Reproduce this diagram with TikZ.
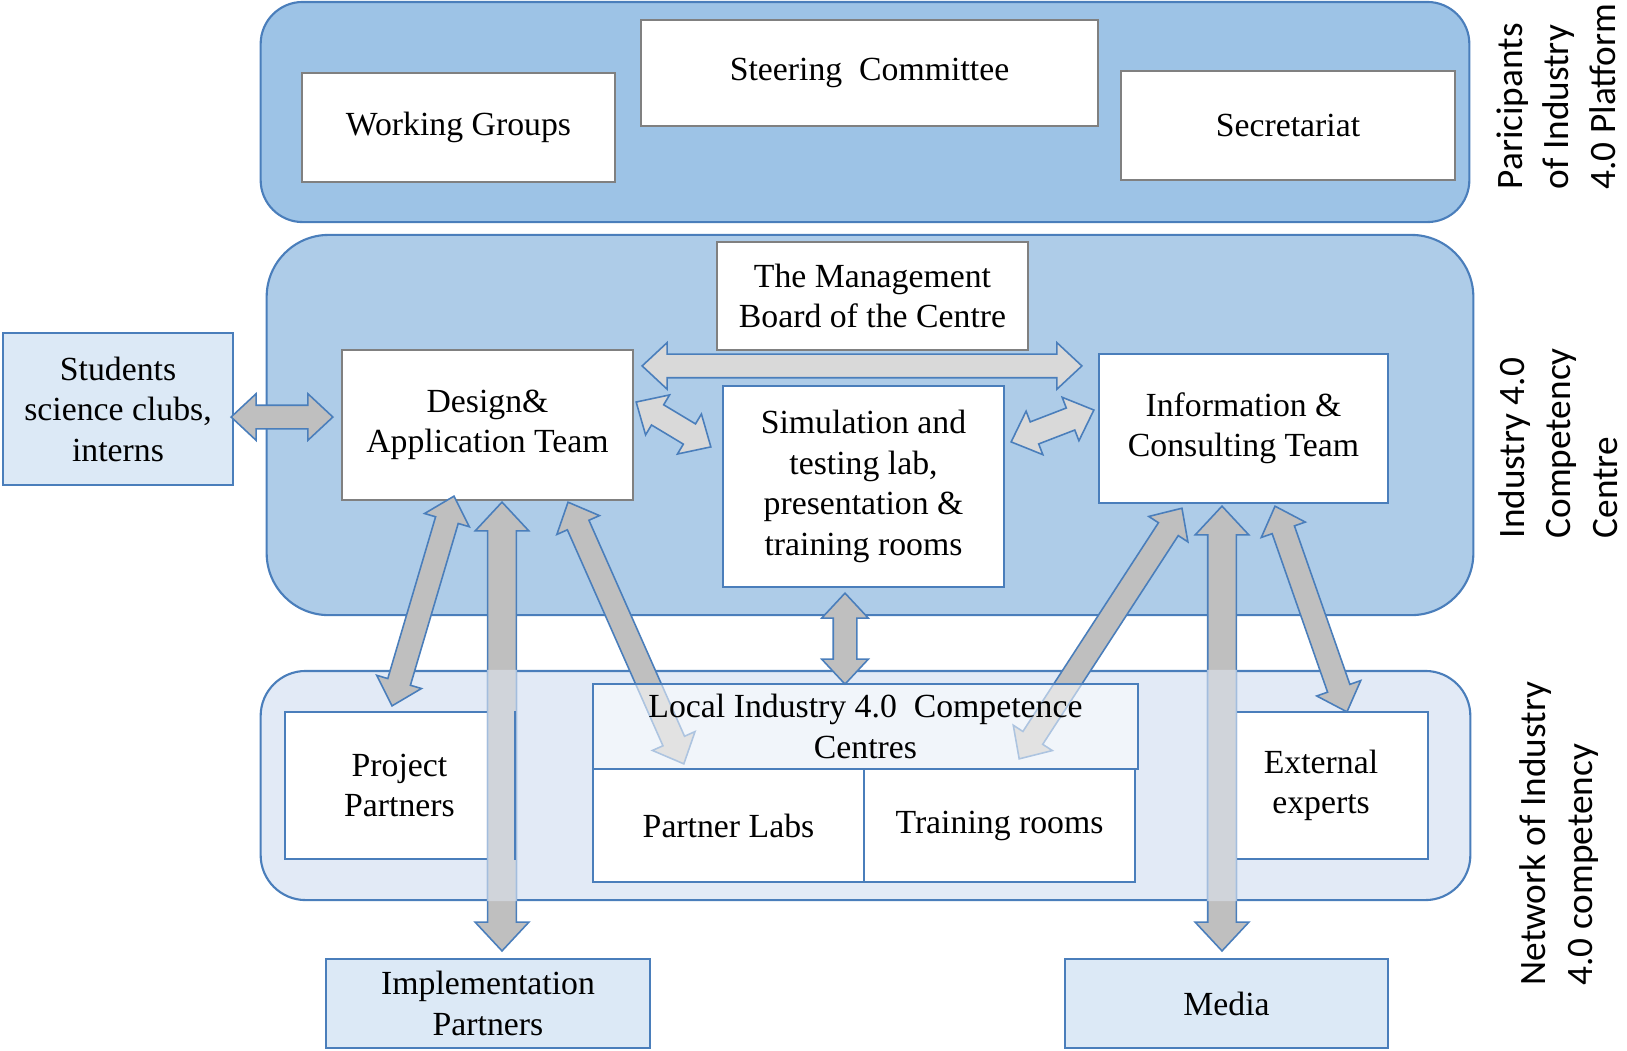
\documentclass[tikz,border=0pt]{standalone}
\usepackage{fontspec}
\setmainfont{Liberation Serif}
\newfontfamily\sidefont{Carlito}
\usetikzlibrary{calc,positioning,shapes.arrows}

\definecolor{platformblue}{RGB}{157,195,230}
\definecolor{centreblue}{RGB}{174,204,232}
\definecolor{networkblue}{RGB}{226,234,246}
\definecolor{outerfill}{RGB}{220,233,246}
\definecolor{bandline}{RGB}{74,126,187}
\definecolor{boxgray}{RGB}{128,128,128}
\definecolor{arrowgray}{RGB}{191,191,191}
\definecolor{arrowlight}{RGB}{217,217,217}

% block arrow with two heads between two points
\newcommand{\blockarrow}[3][]{%
  \path let \p1=#2, \p2=#3,
    \n1={atan2(\y2-\y1,\x2-\x1)}, \n2={veclen(\x2-\x1,\y2-\y1)} in
    ($(\p1)!0.5!(\p2)$) node[block, rotate=\n1, minimum height=\n2, #1] {};}

\begin{document}
\begin{tikzpicture}[x=0.01cm,y=-0.01cm]
\tikzstyle{band}=[rectangle, draw=bandline, line width=0.6pt]
\tikzstyle{box}=[rectangle, draw=boxgray, line width=0.6pt, fill=white, align=center, inner sep=2pt, font=\fontsize{9.6}{11.5}\selectfont]
\tikzstyle{bluebox}=[box, draw=bandline]
\tikzstyle{outer}=[bluebox, fill=outerfill]
\tikzstyle{side}=[rotate=90, anchor=west, align=left, inner sep=0pt, font=\sidefont\fontsize{10.6}{13.2}\selectfont]
\tikzstyle{block}=[double arrow, draw=bandline, line width=0.45pt, fill=arrowgray, inner sep=0pt, minimum width=0pt, text height=0.11cm, text depth=0.11cm, double arrow head extend=0.115cm, double arrow tip angle=86]
\tikzstyle{lightblock}=[block, fill=arrowlight]
\tikzstyle{wideblock}=[block, text height=0.135cm, text depth=0.135cm, double arrow head extend=0.125cm]

\useasboundingbox (0,0) rectangle (1627,1050);

% the three bands
\node[band, fill=platformblue, rounded corners=0.42cm, minimum width=12.08cm, minimum height=2.2cm] (platform) at (865,112) {};
\node[band, fill=centreblue, rounded corners=0.62cm, minimum width=12.06cm, minimum height=3.8cm] (centre) at (870,425) {};
\node[band, fill=networkblue, rounded corners=0.45cm, minimum width=12.09cm, minimum height=2.29cm] (network) at (865.5,785.5) {};

% platform
\node[box, minimum width=3.13cm, minimum height=1.09cm] (working) at (458.5,127.5) {Working Groups};
\node[box, minimum width=4.57cm, minimum height=1.06cm] (steering) at (869.5,73) {Steering~ Committee};
\node[box, minimum width=3.34cm, minimum height=1.09cm] (secretariat) at (1288,125.5) {Secretariat};

% centre
\node[box, minimum width=3.11cm, minimum height=1.08cm] (board) at (872.5,296) {The Management\\Board of the Centre};
\node[box, minimum width=2.91cm, minimum height=1.5cm] (design) at (487.5,425) {Design\&\\Application Team};
\node[bluebox, minimum width=2.81cm, minimum height=2.01cm] (sim) at (863.5,486.5) {Simulation and\\testing lab,\\presentation \&\\training rooms};
\node[bluebox, minimum width=2.89cm, minimum height=1.49cm] (info) at (1243.5,428.5) {Information \&\\Consulting Team};
\node[outer, minimum width=2.3cm, minimum height=1.52cm] (students) at (118,409) {Students\\science clubs,\\interns};

% network
\node[bluebox, minimum width=2.29cm, minimum height=1.47cm] (project) at (399.5,785.5) {Project\\Partners};
\node[bluebox, minimum width=2.71cm, minimum height=1.13cm] (labs) at (728.5,825.5) {Partner Labs};
\node[bluebox, minimum width=2.71cm, minimum height=1.13cm] (training) at (999.5,825.5) {Training rooms};
\node[bluebox, minimum width=2.14cm, minimum height=1.47cm] (experts) at (1321,785.5) {External\\experts};
\node[outer, minimum width=3.24cm, minimum height=0.89cm] (impl) at (488,1003.5) {Implementation\\Partners};
\node[outer, minimum width=3.23cm, minimum height=0.89cm] (media) at (1226.5,1003.5) {Media};

% arrows
\blockarrow{($(students.east)+(-3,8)$)}{($(design.west)+(-8,-8)$)}
\blockarrow[lightblock]{($(design.north east)+(8,17)$)}{($(info.north west)+(-16,13)$)}
\blockarrow[lightblock]{($(design.east)+(2,-23)$)}{($(sim.north west)+(-11,62)$)}
\blockarrow[lightblock]{($(sim.north east)+(6,57)$)}{($(info.west)+(-4,-18.5)$)}
\blockarrow{($(sim.south)+(-18.5,5)$)}{($(sim.south)+(-18.5,96)$)}
\blockarrow{($(design.south)+(-33.5,-5)$)}{($(project.north)+(-7.5,-5)$)}
\blockarrow{($(design.south)+(80.5,1)$)}{($(labs.north west)+(92,-4)$)}
\blockarrow{($(info.south)+(-61.5,4)$)}{($(training.north east)+(-117,-9)$)}
\blockarrow{($(info.south)+(31.5,2)$)}{($(experts.north)+(26,1)$)}
\blockarrow[wideblock]{($(design.south)+(14.5,1)$)}{($(impl.north)+(14,-7)$)}
\blockarrow[wideblock]{($(info.south)+(-21.5,2)$)}{($(media.north)+(-4.5,-7)$)}

\node[bluebox, fill opacity=0.55, text opacity=1, minimum width=5.45cm, minimum height=0.85cm] (local) at (865.5,726.5) {Local Industry 4.0~ Competence\\Centres};

% long arrows fade inside the network band
\begin{scope}
\clip[rounded corners=0.45cm] (network.south west) rectangle (network.north east);
\blockarrow[wideblock, fill=networkblue, draw=networkblue, opacity=0.5]{($(design.south)+(14.5,1)$)}{($(impl.north)+(14,-7)$)}
\blockarrow[wideblock, fill=networkblue, draw=networkblue, opacity=0.5]{($(info.south)+(-21.5,2)$)}{($(media.north)+(-4.5,-7)$)}
\end{scope}
\draw[bandline, line width=0.6pt] (project.north east) -- (project.south east);

% side labels
\node[side] (platformlabel) at (1556,190) {Paricipants\\of Industry\\4.0 Platform};
\node[side] (centrelabel) at (1558,539) {Industry 4.0\\Competency\\Centre};
\node[side] (networklabel) at (1559,986) {Network of Industry\\4.0 competency};
\end{tikzpicture}
\end{document}
